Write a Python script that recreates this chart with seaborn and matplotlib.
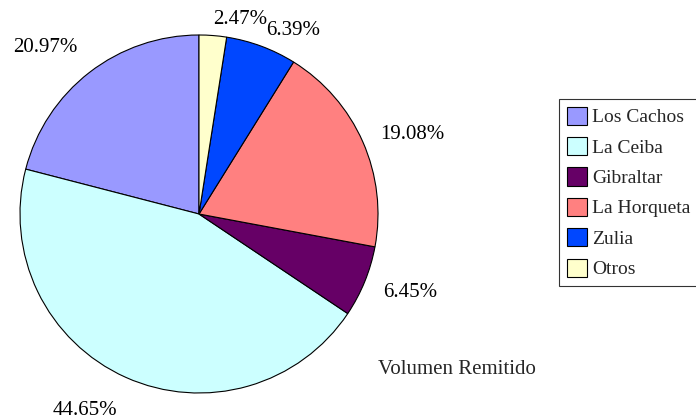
import numpy as np
import matplotlib
matplotlib.use("Agg")
import matplotlib.pyplot as plt
import seaborn as sns
from matplotlib.patches import Patch

categories = ["Los Cachos", "La Ceiba", "Gibraltar", "La Horqueta", "Zulia", "Otros"]
values = [20.97, 44.65, 6.45, 19.08, 6.39, 2.47]
pct_labels = ["20.97%", "44.65%", "6.45%", "19.08%", "6.39%", "2.47%"]
colors = ["#9999FF", "#CCFFFF", "#660066", "#FF8080", "#0047FF", "#FFFFCC"]
# label nudges in pixels (x right, y up)
nudges = [(-20, -6), (-25, 3), (9, 4), (13, -9), (18, -21), (24, -23)]

sns.set_theme(style="white")
plt.rcParams["font.family"] = ["Liberation Serif", "DejaVu Serif"]

W, H = 696, 419
fig = plt.figure(figsize=(W / 100, H / 100), dpi=100)
cx, cy, r = 199, 214, 179
ax = fig.add_axes([(cx - r) / W, (H - cy - r) / H, 2 * r / W, 2 * r / H])

wedges, _ = ax.pie(values, colors=colors, startangle=90, counterclock=True,
                   wedgeprops=dict(edgecolor="black", linewidth=0.8))
ax.set_xlim(-1, 1)
ax.set_ylim(-1, 1)
ax.set_aspect("equal")
ax.axis("off")

FS = 15
dist = 1.22
for w, lab, (nx, ny) in zip(wedges, pct_labels, nudges):
    ang = np.deg2rad((w.theta1 + w.theta2) / 2)
    x, y = dist * np.cos(ang), dist * np.sin(ang)
    x += nx / r
    y += ny / r
    ax.text(x, y, lab, ha="center", va="center", fontsize=FS, color="black", clip_on=False)

fig.text(457 / W, 1 - 369 / H, "Volumen Remitido", ha="center", va="center", fontsize=FS)

handles = [Patch(facecolor=c, edgecolor="black", linewidth=0.8) for c in colors]
leg = fig.legend(handles, categories, loc="upper left",
                 bbox_to_anchor=(559 / W, 1 - 99 / H), borderaxespad=0,
                 fancybox=False, frameon=True, fontsize=14,
                 handlelength=1.05, handleheight=1.05, handletextpad=0.25,
                 labelspacing=0.55, borderpad=0.4)
leg.get_frame().set_edgecolor("black")
leg.get_frame().set_linewidth(0.8)

fig.savefig("out.png", dpi=100, facecolor="white")
